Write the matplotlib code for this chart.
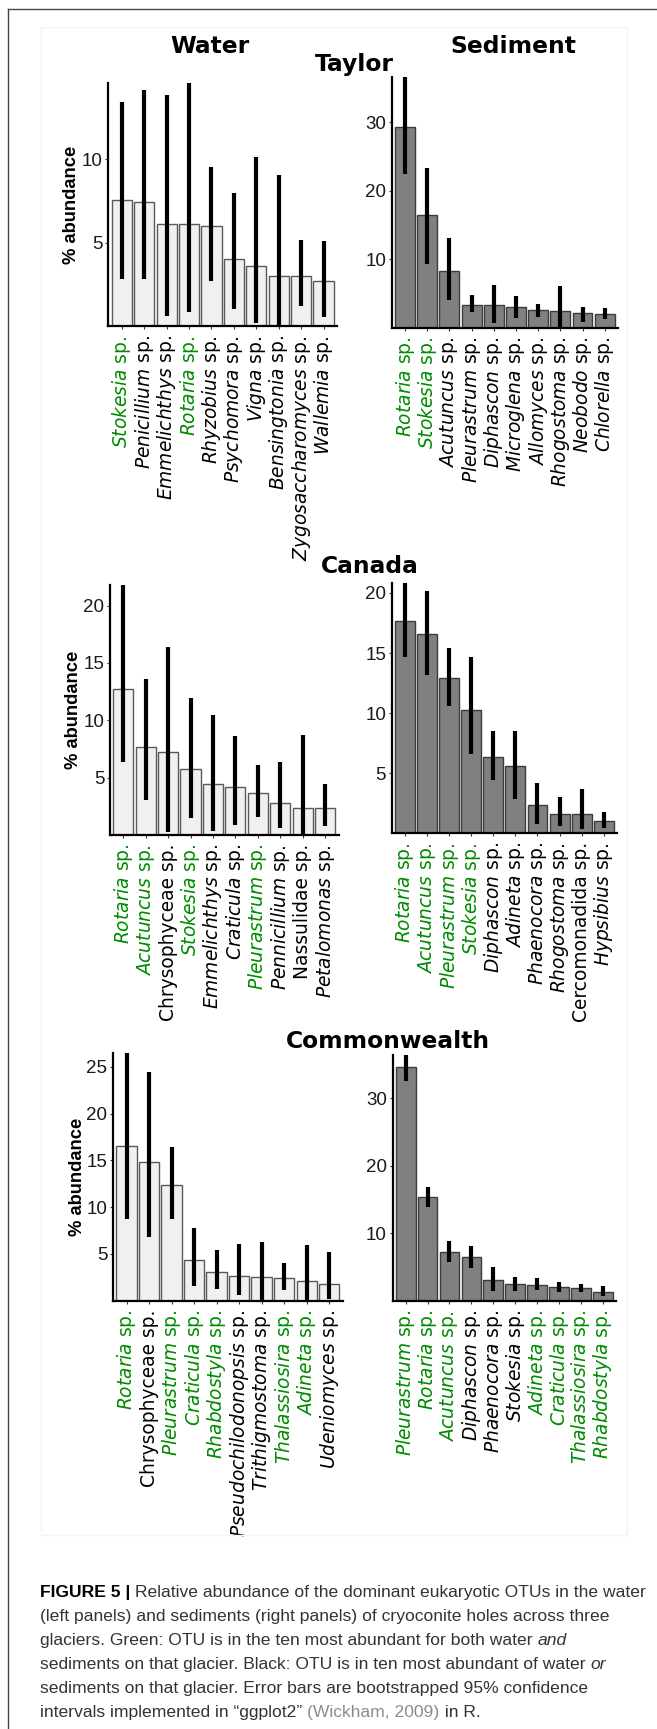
import numpy as np
import matplotlib.pyplot as plt
from matplotlib.lines import Line2D
from matplotlib.patches import Rectangle

W, H = 657, 1729
GREEN = '#008b00'

# ---- data ----
upright = ['Chrysophyceae', 'Nassulidae', 'Cercomonadida']

taylor_water_taxa = ['Stokesia', 'Penicillium', 'Emmelichthys', 'Rotaria', 'Rhyzobius',
                     'Psychomora', 'Vigna', 'Bensingtonia', 'Zygosaccharomyces', 'Wallemia']
taylor_water_green = ['Stokesia', 'Rotaria']
taylor_water_mean = [7.53, 7.45, 6.14, 6.10, 6.00, 4.00, 3.63, 3.03, 2.99, 2.73]
taylor_water_lo = [2.83, 2.83, 0.62, 0.84, 2.69, 1.02, 0.20, 0.00, 1.24, 0.56]
taylor_water_hi = [13.39, 14.14, 13.80, 15.50, 9.50, 7.95, 10.12, 9.04, 5.16, 5.12]

taylor_sed_taxa = ['Rotaria', 'Stokesia', 'Acutuncus', 'Pleurastrum', 'Diphascon',
                   'Microglena', 'Allomyces', 'Rhogostoma', 'Neobodo', 'Chlorella']
taylor_sed_green = ['Rotaria', 'Stokesia']
taylor_sed_mean = [29.27, 16.44, 8.29, 3.32, 3.27, 2.98, 2.54, 2.44, 2.10, 2.05]
taylor_sed_lo = [22.40, 9.37, 4.05, 2.24, 0.63, 1.37, 1.60, 0.00, 0.88, 1.22]
taylor_sed_hi = [40.00, 23.40, 13.17, 4.73, 6.29, 4.68, 3.46, 6.15, 3.00, 2.83]

canada_water_taxa = ['Rotaria', 'Acutuncus', 'Chrysophyceae', 'Stokesia', 'Emmelichthys',
                     'Craticula', 'Pleurastrum', 'Pennicillium', 'Nassulidae', 'Petalomonas']
canada_water_green = ['Rotaria', 'Acutuncus', 'Stokesia', 'Pleurastrum']
canada_water_mean = [12.74, 7.68, 7.22, 5.77, 4.46, 4.14, 3.67, 2.74, 2.36, 2.31]
canada_water_lo = [6.38, 3.00, 0.24, 1.50, 0.33, 0.86, 1.58, 0.59, 0.00, 0.77]
canada_water_hi = [24.00, 13.56, 16.40, 11.90, 10.42, 8.64, 6.09, 6.38, 8.74, 4.39]

canada_sed_taxa = ['Rotaria', 'Acutuncus', 'Pleurastrum', 'Stokesia', 'Diphascon',
                   'Adineta', 'Phaenocora', 'Rhogostoma', 'Cercomonadida', 'Hypsibius']
canada_sed_green = ['Rotaria', 'Acutuncus', 'Pleurastrum', 'Stokesia']
canada_sed_mean = [17.67, 16.56, 12.89, 10.28, 6.33, 5.56, 2.33, 1.58, 1.58, 1.06]
canada_sed_lo = [14.64, 13.14, 10.56, 6.58, 4.44, 2.86, 0.75, 0.61, 0.39, 0.47]
canada_sed_hi = [22.00, 20.20, 15.39, 14.64, 8.47, 8.47, 4.22, 3.00, 3.67, 1.81]

comm_water_taxa = ['Rotaria', 'Chrysophyceae', 'Pleurastrum', 'Craticula', 'Rhabdostyla',
                   'Pseudochilodonopsis', 'Trithigmostoma', 'Thalassiosira', 'Adineta', 'Udeniomyces']
comm_water_green = ['Rotaria', 'Pleurastrum', 'Craticula', 'Rhabdostyla', 'Thalassiosira', 'Adineta']
comm_water_mean = [16.57, 14.82, 12.33, 4.32, 3.04, 2.69, 2.51, 2.44, 2.15, 1.76]
comm_water_lo = [8.70, 6.85, 8.70, 1.62, 1.30, 0.59, 0.00, 1.16, 0.00, 0.23]
comm_water_hi = [28.00, 24.40, 16.46, 7.74, 5.39, 6.03, 6.32, 4.00, 5.93, 5.18]

comm_sed_taxa = ['Pleurastrum', 'Rotaria', 'Acutuncus', 'Diphascon', 'Phaenocora',
                 'Stokesia', 'Adineta', 'Craticula', 'Thalassiosira', 'Rhabdostyla']
comm_sed_green = ['Pleurastrum', 'Rotaria', 'Acutuncus', 'Adineta', 'Craticula',
                  'Thalassiosira', 'Rhabdostyla']
comm_sed_mean = [34.64, 15.33, 7.19, 6.44, 3.09, 2.49, 2.30, 2.00, 1.85, 1.36]
comm_sed_lo = [32.60, 13.95, 5.75, 4.81, 1.46, 1.50, 1.60, 1.36, 1.26, 0.77]
comm_sed_hi = [37.50, 16.90, 8.86, 8.12, 5.06, 3.53, 3.43, 2.74, 2.44, 2.20]

plt.rcParams['mathtext.fontset'] = 'dejavusans'

fig = plt.figure(figsize=(W / 100, H / 100), dpi=100)


def add_axes(l, r, t, b):
    return fig.add_axes([l / W, 1 - b / H, (r - l) / W, (b - t) / H])


def tick_label(name):
    if name in upright:
        return name + ' sp.'
    return r'$\mathit{' + name + '}$ sp.'


def panel(box, taxa, green, mean, lo, hi, top, ticks, fill, edge):
    ax = add_axes(*box)
    x = np.arange(1, len(taxa) + 1)
    ax.bar(x, mean, width=0.9, color=fill, edgecolor=edge, linewidth=1.0, zorder=2)
    ax.vlines(x, lo, hi, color='black', linewidth=3.0, zorder=3)
    ax.set_xlim(0.4, len(taxa) + 0.6)
    ax.set_ylim(0, top)
    ax.set_yticks(ticks, labels=[str(t) for t in ticks],
                  fontfamily='Liberation Sans', fontsize=13.5, color='#1a1a1a')
    ax.set_xticks(x, labels=[tick_label(t) for t in taxa], rotation=90,
                  fontfamily='DejaVu Sans', fontsize=13.4)
    for tl, t in zip(ax.get_xticklabels(), taxa):
        tl.set_color(GREEN if t in green else 'black')
    for s in ['top', 'right']:
        ax.spines[s].set_visible(False)
    for s in ['left', 'bottom']:
        ax.spines[s].set_linewidth(1.6)
    ax.tick_params(axis='both', length=2.5, width=0.8, color='#333333')
    ax.tick_params(axis='y', pad=1.5)
    ax.tick_params(axis='x', pad=4)
    return ax


WFILL, WEDGE = '#f0f0f0', '#5a5a5a'
SFILL, SEDGE = '#808080', '#3c3c3c'

panel((108.3, 337, 82.7, 326.4), taylor_water_taxa, taylor_water_green, taylor_water_mean,
      taylor_water_lo, taylor_water_hi, 14.56, [5, 10], WFILL, WEDGE)
panel((391.7, 618, 77.3, 327.7), taylor_sed_taxa, taylor_sed_green, taylor_sed_mean,
      taylor_sed_lo, taylor_sed_hi, 36.6, [10, 20, 30], SFILL, SEDGE)
panel((109.8, 338.5, 585, 834.8), canada_water_taxa, canada_water_green, canada_water_mean,
      canada_water_lo, canada_water_hi, 21.8, [5, 10, 15, 20], WFILL, WEDGE)
panel((391.7, 617, 583.3, 833.3), canada_sed_taxa, canada_sed_green, canada_sed_mean,
      canada_sed_lo, canada_sed_hi, 20.8, [5, 10, 15, 20], SFILL, SEDGE)
panel((113, 342.7, 1052.7, 1300.8), comm_water_taxa, comm_water_green, comm_water_mean,
      comm_water_lo, comm_water_hi, 26.5, [5, 10, 15, 20, 25], WFILL, WEDGE)
panel((392.5, 616, 1055, 1300.8), comm_sed_taxa, comm_sed_green, comm_sed_mean,
      comm_sed_lo, comm_sed_hi, 36.4, [10, 20, 30], SFILL, SEDGE)

# y labels on the water panels
for xc, yc in [(72, 204.5), (73.5, 710), (77.5, 1177)]:
    fig.text(xc / W, 1 - yc / H, '% abundance', rotation=90, ha='center', va='center',
             fontsize=13.2, fontweight='bold', family='Liberation Sans')

# titles
for txt, xc, yb in [('Water', 210, 53.3), ('Sediment', 513.7, 53.3), ('Taylor', 354.8, 71.3),
                    ('Canada', 370.3, 573.3), ('Commonwealth', 387.5, 1048.3)]:
    fig.text(xc / W, 1 - yb / H, txt, ha='center', va='baseline',
             fontsize=16.8, fontweight='bold', family='DejaVu Sans')

# frames
fig.add_artist(Rectangle((41 / W, 1 - 1535 / H), (627 - 41) / W, (1535 - 27) / H,
                         transform=fig.transFigure, fill=False, edgecolor='#eef6ee', linewidth=1))
fig.add_artist(Line2D([8 / W, 8 / W], [1 - 9 / H, 0], transform=fig.transFigure,
                      color='#444444', linewidth=1.0))
fig.add_artist(Line2D([8 / W, 1], [1 - 9 / H, 1 - 9 / H], transform=fig.transFigure,
                      color='#444444', linewidth=1.0))

# caption
renderer = fig.canvas.get_renderer()
CAP = 12.6
TXT = '#333333'
lines = [
    [('FIGURE 5 | ', dict(fontweight='bold', color='black')),
     ('Relative abundance of the dominant eukaryotic OTUs in the water', {})],
    [('(left panels) and sediments (right panels) of cryoconite holes across three', {})],
    [('glaciers. Green: OTU is in the ten most abundant for both water ', {}),
     ('and', dict(style='italic'))],
    [('sediments on that glacier. Black: OTU is in ten most abundant of water ', {}),
     ('or', dict(style='italic'))],
    [('sediments on that glacier. Error bars are bootstrapped 95% confidence', {})],
    [('intervals implemented in \u201cggplot2\u201d ', {}),
     ('(Wickham, 2009)', dict(color='#8c8c8c')), (' in R.', {})],
]
for i, parts in enumerate(lines):
    yb = 1597 + i * 24
    x = 40
    for txt, kw in parts:
        opts = dict(color=TXT)
        opts.update(kw)
        t = fig.text(x / W, 1 - yb / H, txt, fontsize=CAP, family='Liberation Sans',
                     va='baseline', ha='left', **opts)
        x = t.get_window_extent(renderer).x1

fig.savefig('out.png', dpi=100)
